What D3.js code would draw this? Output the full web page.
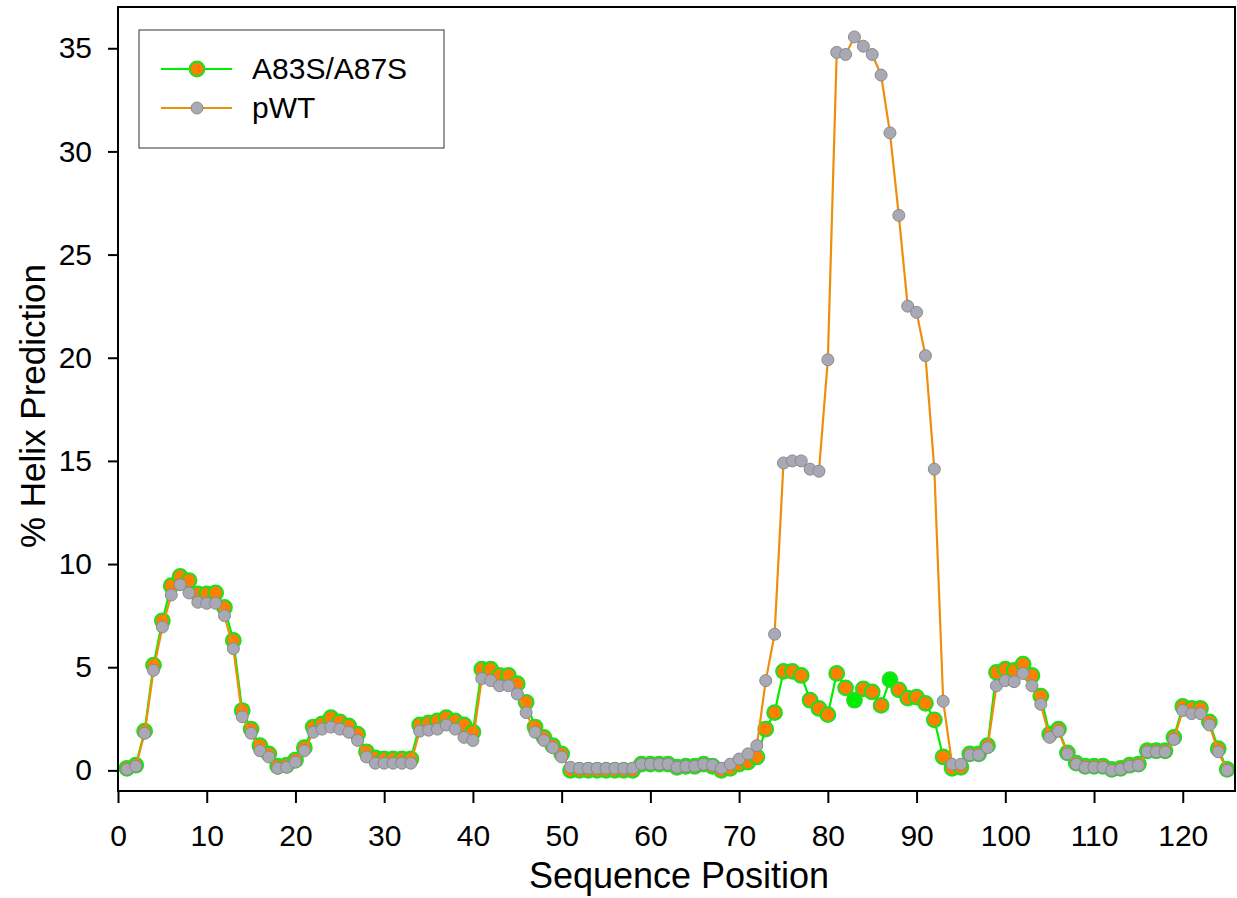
<!DOCTYPE html>
<html>
<head>
<meta charset="utf-8">
<script src="https://cdn.jsdelivr.net/npm/d3@7"></script>
<style>
  body { margin: 0; background: #fff; }
  text { font-family: "Liberation Sans", Arial, sans-serif; fill: #000; }
</style>
</head>
<body>
<div id="chart"></div>
<script>
// sequence positions 1..125
const positions = d3.range(1, 126);

const mutantValues = [
  0.1, 0.25, 1.9, 5.1, 7.25, 8.95, 9.4, 9.2, 8.55, 8.55,
  8.6, 7.9, 6.3, 2.9, 2.0, 1.2, 0.8, 0.2, 0.25, 0.5,
  1.1, 2.1, 2.25, 2.55, 2.35, 2.15, 1.75, 0.9, 0.6, 0.55,
  0.55, 0.55, 0.55, 2.2, 2.3, 2.4, 2.55, 2.4, 2.2, 1.85,
  4.9, 4.9, 4.6, 4.6, 4.2, 3.3, 2.1, 1.6, 1.2, 0.8,
  0.0, 0.0, 0.0, 0.0, 0.0, 0.0, 0.0, 0.0, 0.3, 0.3,
  0.3, 0.3, 0.15, 0.2, 0.2, 0.3, 0.2, 0.0, 0.1, 0.3,
  0.4, 0.65, 2.0, 2.8, 4.8, 4.8, 4.6, 3.4, 3.0, 2.7,
  4.7, 4.0, 3.4, 3.95, 3.8, 3.15, 4.4, 3.9, 3.5, 3.55,
  3.25, 2.45, 0.65, 0.1, 0.15, 0.8, 0.8, 1.2, 4.75, 4.9,
  4.85, 5.15, 4.6, 3.6, 1.75, 2.0, 0.85, 0.35, 0.2, 0.2,
  0.2, 0.05, 0.1, 0.25, 0.3, 0.95, 0.95, 0.95, 1.6, 3.1,
  3.0, 3.0, 2.35, 1.05, 0.05
];

const wtValues = [
  0.05, 0.2, 1.8, 4.85, 6.95, 8.5, 9.0, 8.6, 8.15, 8.1,
  8.1, 7.5, 5.9, 2.6, 1.8, 0.95, 0.65, 0.1, 0.15, 0.4,
  0.95, 1.85, 2.0, 2.1, 2.0, 1.85, 1.45, 0.65, 0.35, 0.35,
  0.35, 0.35, 0.35, 1.9, 1.95, 2.0, 2.2, 2.0, 1.6, 1.45,
  4.45, 4.35, 4.1, 4.1, 3.7, 2.8, 1.85, 1.45, 1.1, 0.65,
  0.15, 0.1, 0.1, 0.1, 0.1, 0.1, 0.1, 0.1, 0.3, 0.3,
  0.3, 0.3, 0.15, 0.2, 0.2, 0.3, 0.25, 0.1, 0.3, 0.55,
  0.8, 1.2, 4.35, 6.6, 14.9, 15.0, 15.0, 14.6, 14.5, 19.9,
  34.8, 34.7, 35.55, 35.1, 34.7, 33.7, 30.9, 26.9, 22.5, 22.2,
  20.1, 14.6, 3.35, 0.3, 0.3, 0.75, 0.75, 1.1, 4.1, 4.35,
  4.3, 4.7, 4.1, 3.2, 1.6, 1.9, 0.8, 0.3, 0.15, 0.15,
  0.15, 0.0, 0.05, 0.2, 0.25, 0.9, 0.9, 0.9, 1.5, 2.9,
  2.75, 2.75, 2.2, 0.9, 0.0
];

// mutated residues drawn with a solid green marker
const mutatedPositions = [83, 87];

const xTicks = [0, 10, 20, 30, 40, 50, 60, 70, 80, 90, 100, 110, 120];
const yTicks = [0, 5, 10, 15, 20, 25, 30, 35];

const seriesNames = ['A83S/A87S', 'pWT'];

const width = 1237, height = 898;
const margin = { left: 118, right: 1, top: 7, bottom: 107 };

const svg = d3.select('#chart').append('svg')
  .attr('width', width)
  .attr('height', height);

const x = d3.scaleLinear().domain([0, 126]).range([margin.left, width - margin.right]);
const y = d3.scaleLinear().domain([-1, 37]).range([height - margin.bottom, margin.top]);

const mutant = positions.map((p, i) => ({ p, v: mutantValues[i] }));
const wt = positions.map((p, i) => ({ p, v: wtValues[i] }));

const line = d3.line().x(d => x(d.p)).y(d => y(d.v));

// mutant series
svg.append('path')
  .datum(mutant)
  .attr('fill', 'none')
  .attr('stroke', '#00ee00')
  .attr('stroke-width', 2.2)
  .attr('d', line);

svg.append('g').selectAll('circle')
  .data(mutant)
  .enter()
  .append('circle')
  .attr('cx', d => x(d.p))
  .attr('cy', d => y(d.v))
  .attr('r', 7.3)
  .attr('fill', d => mutatedPositions.includes(d.p) ? '#00ee00' : '#ff8000')
  .attr('stroke', '#22dd22')
  .attr('stroke-width', 2.2);

// wild type series
svg.append('path')
  .datum(wt)
  .attr('fill', 'none')
  .attr('stroke', '#ee8f0c')
  .attr('stroke-width', 2.2)
  .attr('d', line);

svg.append('g').selectAll('circle')
  .data(wt)
  .enter()
  .append('circle')
  .attr('cx', d => x(d.p))
  .attr('cy', d => y(d.v))
  .attr('r', 6)
  .attr('fill', '#a8a9b4')
  .attr('stroke', '#8a8a8a')
  .attr('stroke-width', 1);

// frame
svg.append('rect')
  .attr('x', x(0))
  .attr('y', margin.top)
  .attr('width', x(126) - x(0) - 1)
  .attr('height', y(-1) - margin.top)
  .attr('fill', 'none')
  .attr('stroke', '#000')
  .attr('stroke-width', 2);

// axes
const xAxis = svg.append('g')
  .attr('transform', `translate(0,${y(-1)})`)
  .call(d3.axisBottom(x).tickValues(xTicks).tickSize(12).tickPadding(22));
xAxis.select('.domain').remove();
xAxis.selectAll('line').attr('stroke', '#000').attr('stroke-width', 2);
xAxis.selectAll('text').attr('font-size', 30).attr('font-family', '"Liberation Sans", Arial, sans-serif');

const yAxis = svg.append('g')
  .attr('transform', `translate(${x(0)},0)`)
  .call(d3.axisLeft(y).tickValues(yTicks).tickSize(10).tickPadding(16));
yAxis.select('.domain').remove();
yAxis.selectAll('line').attr('stroke', '#000').attr('stroke-width', 2);
yAxis.selectAll('text').attr('font-size', 30).attr('font-family', '"Liberation Sans", Arial, sans-serif');

// titles
svg.append('text')
  .attr('x', 679)
  .attr('y', 888)
  .attr('text-anchor', 'middle')
  .attr('font-size', 36)
  .text('Sequence Position');

svg.append('text')
  .attr('transform', 'translate(45,406) rotate(-90)')
  .attr('text-anchor', 'middle')
  .attr('font-size', 35)
  .text('% Helix Prediction');

// legend
const legend = svg.append('g');
legend.append('rect')
  .attr('x', 139).attr('y', 30)
  .attr('width', 305).attr('height', 118)
  .attr('fill', '#fff')
  .attr('stroke', '#333')
  .attr('stroke-width', 1);

const legendRows = [
  { name: seriesNames[0], line: '#00ee00', fill: '#ff8000', stroke: '#22dd22', r: 7.3, sw: 2.2 },
  { name: seriesNames[1], line: '#ee8f0c', fill: '#a8a9b4', stroke: '#8a8a8a', r: 6, sw: 1 }
];

legendRows.forEach((row, i) => {
  const cy = 69 + i * 39;
  legend.append('line')
    .attr('x1', 161).attr('x2', 232)
    .attr('y1', cy).attr('y2', cy)
    .attr('stroke', row.line)
    .attr('stroke-width', 2.2);
  legend.append('circle')
    .attr('cx', 197).attr('cy', cy).attr('r', row.r)
    .attr('fill', row.fill)
    .attr('stroke', row.stroke)
    .attr('stroke-width', row.sw);
  legend.append('text')
    .attr('x', 252).attr('y', cy + 10)
    .attr('font-size', 30)
    .text(row.name);
});
</script>
</body>
</html>
